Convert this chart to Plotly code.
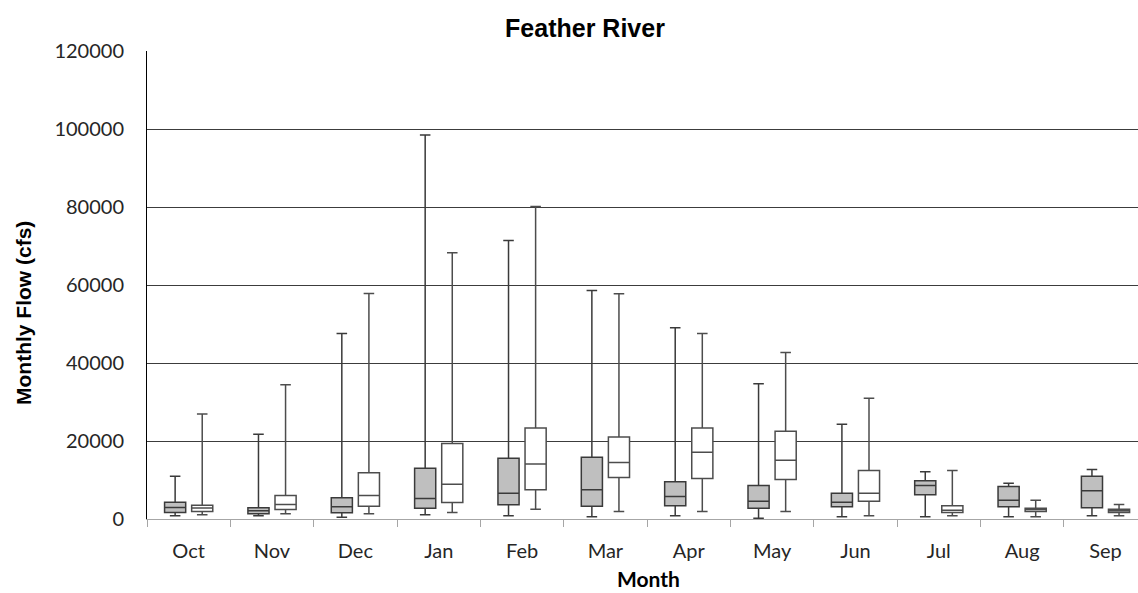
import plotly.graph_objects as go

months = ["Oct", "Nov", "Dec", "Jan", "Feb", "Mar", "Apr", "May", "Jun", "Jul", "Aug", "Sep"]

# Series A (gray boxes)
a_min = [820, 820, 460, 1075, 820, 560, 820, 205, 560, 560, 560, 820]
a_q1 = [1665, 1330, 1590, 2770, 3635, 3280, 3380, 2770, 3120, 6200, 3120, 2870]
a_med = [2945, 2100, 3120, 5250, 6610, 7470, 5760, 4560, 4300, 8580, 4815, 7220]
a_q3 = [4300, 2870, 5430, 13010, 15570, 15830, 9520, 8580, 6610, 9780, 8320, 10960]
a_max = [10960, 21720, 47590, 98470, 71400, 58600, 49040, 34700, 24280, 12090, 9170, 12680]

# Series B (white boxes)
b_min = [1075, 1330, 1330, 1665, 2510, 1920, 1920, 1920, 820, 820, 560, 820]
b_q1 = [1920, 2430, 3280, 4225, 7470, 10630, 10370, 10115, 4560, 1665, 1920, 1665]
b_med = [2800, 3710, 6020, 8915, 14130, 14470, 17110, 15060, 6610, 2250, 2430, 2100]
b_q3 = [3500, 6020, 11830, 19335, 23355, 21050, 23355, 22490, 12420, 3380, 2770, 2510]
b_max = [26940, 34445, 57830, 68250, 80110, 57750, 47590, 42720, 30940, 12420, 4815, 3710]

y_ticks = [0, 20000, 40000, 60000, 80000, 100000, 120000]

W, H = 1138, 593
ML, MT, MB = 147, 51, 74

fig = go.Figure()
fig.add_trace(go.Box(
    x=months, q1=a_q1, median=a_med, q3=a_q3, lowerfence=a_min, upperfence=a_max,
    fillcolor="#BFBFBF", line=dict(color="#3a3a3a", width=1.5), whiskerwidth=0.5,
    boxpoints=False, name="A", showlegend=False,
))
fig.add_trace(go.Box(
    x=months, q1=b_q1, median=b_med, q3=b_q3, lowerfence=b_min, upperfence=b_max,
    fillcolor="#FFFFFF", line=dict(color="#4d4d4d", width=1.5), whiskerwidth=0.5,
    boxpoints=False, name="B", showlegend=False,
))

pw = W - ML
ph = H - MT - MB
fig.update_layout(
    width=W, height=H,
    margin=dict(l=ML, r=0, t=MT, b=MB, autoexpand=False),
    paper_bgcolor="white", plot_bgcolor="white",
    boxmode="group", boxgap=0.35, boxgroupgap=0.22,
    title=dict(text="<b>Feather River</b>", x=585 / W, xanchor="center",
               y=1 - 28 / H, yanchor="middle", yref="container",
               font=dict(family="Liberation Sans, Arial", size=25, color="#000000")),
    font=dict(family="Lato, Carlito, Calibri", color="#262626"),
    annotations=[
        dict(text="<b>Monthly Flow (cfs)</b>", textangle=-90, showarrow=False,
             xref="paper", yref="paper", x=(23 - ML) / pw, y=(H - MB - 313) / ph,
             xanchor="center", yanchor="middle",
             font=dict(family="Liberation Sans, Arial", size=21, color="#000000")),
        dict(text="<b>Month</b>", showarrow=False,
             xref="paper", yref="paper", x=(648 - ML) / pw, y=(H - MB - 578) / ph,
             xanchor="center", yanchor="middle",
             font=dict(family="Lato", size=21, color="#000000")),
    ],
)
fig.update_xaxes(
    type="category", categoryorder="array", categoryarray=months,
    range=[-0.5, 11.39], tickson="boundaries", ticks="outside", ticklen=7,
    tickcolor="#A6A6A6", tickwidth=1, showline=True, linecolor="#A6A6A6", linewidth=1,
    showgrid=False, automargin=False, ticklabelstandoff=14,
    tickfont=dict(size=20, color="#262626"),
)
fig.update_yaxes(
    range=[0, 120000], tickvals=y_ticks, tickformat="d",
    showgrid=True, gridcolor="#3c3c3c", gridwidth=1, zeroline=False,
    showline=True, linecolor="#000000", linewidth=1, ticks="", automargin=False,
    ticklabelstandoff=18, tickfont=dict(size=20, color="#262626"),
)

fig.write_html("out.html", config={"displayModeBar": False},
               post_script="document.body.style.margin='0';document.body.style.overflow='hidden';")
